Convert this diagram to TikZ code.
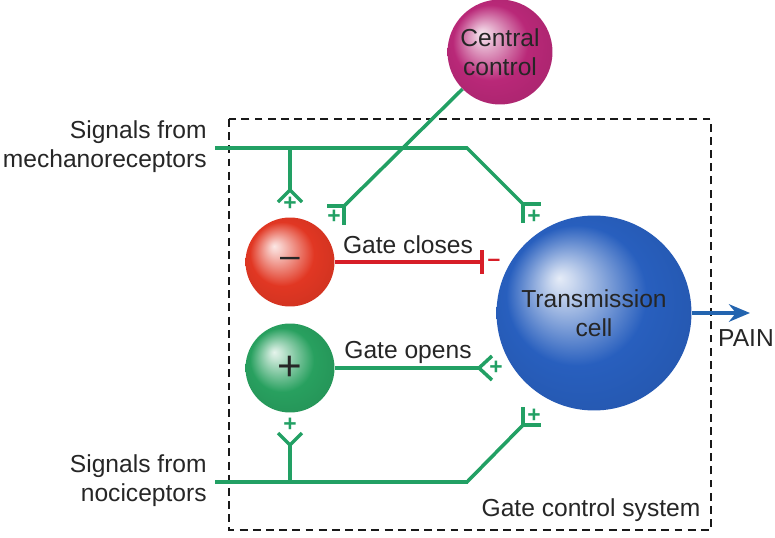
\documentclass[tikz,border=0pt]{standalone}
\usepackage{fontspec}
\setmainfont{Liberation Sans}
\usepackage{tikz}
\usetikzlibrary{positioning}
\usetikzlibrary{arrows.meta}

\definecolor{syngreen}{RGB}{34,160,100}
\definecolor{synred}{RGB}{215,30,40}
\definecolor{painblue}{RGB}{35,100,175}
\definecolor{ballred}{RGB}{225,55,35}
\definecolor{ballgreen}{RGB}{40,160,95}
\definecolor{ballblue}{RGB}{40,95,190}
\definecolor{ballpink}{RGB}{185,40,120}
\colorlet{sphcol}{gray}
\pgfdeclareradialshading[sphcol]{sphere}{\pgfqpoint{-9bp}{9bp}}{%
color(0bp)=(sphcol!12!white); color(3bp)=(sphcol!25!white);
color(18bp)=(sphcol); color(36bp)=(sphcol!88!black)}

\begin{document}
\begin{tikzpicture}
[
x=0.02cm, y=-0.02cm,
ball-a/.style={circle, inner sep=0pt, /utils/exec={\colorlet{sphcol}{#1}}, shading=sphere},
text-a/.style={font=\fontsize{14}{16.5}\selectfont, text=black!85},
sign-a/.style={font=\fontsize{24}{24}\selectfont, text=black!85},
plus-a/.style={font=\fontsize{13}{13}\selectfont\bfseries, text=syngreen, inner sep=0pt},
line-g/.style={syngreen, line width=2pt},
line-r/.style={synred, line width=2pt},
frame-a/.style={black!90, line width=1.2pt, dash pattern=on 4.5pt off 3pt},
]
\useasboundingbox (0,0) rectangle (775,538);

% gate control system
\draw [frame-a] (229,119) rectangle (711,530);
\node (gcs) [text-a] at (591,510) {Gate control system};

% cells
\node (cc)  [ball-a=ballpink,  minimum size=2.1cm,  text-a, align=center] at (500,52)  {Central\\control};
\node (inh) [ball-a=ballred,   minimum size=1.78cm, sign-a, font=\fontsize{20}{20}\selectfont] at (290,262) {–};
\node (exc) [ball-a=ballgreen, minimum size=1.78cm, sign-a] at (290,368) {+};
\node (tc)  [ball-a=ballblue,  minimum size=3.9cm,  text-a, align=center] at (594,313) {Transmission\\cell};

% inputs
\node (sm) [text-a, align=right, anchor=east, inner sep=0pt] at (207,147) {Signals from\\mechanoreceptors};
\node (sn) [text-a, align=right, anchor=east, inner sep=0pt] at (207,481) {Signals from\\nociceptors};

\coordinate (m0) at (215,148);
\coordinate (m1) at (290,148);
\coordinate (m2) at (467,148);
\coordinate (s1) at (523,204);
\coordinate (f1) at (290,190);
\coordinate (s2) at (344,206);
\coordinate (n0) at (215,482);
\coordinate (n1) at (290,482);
\coordinate (n2) at (467,482);
\coordinate (s3) at (523,425);
\coordinate (f2) at (290,445);
\coordinate (f3) at (479,368);
\coordinate (t1) at (482,262);
\coordinate (pain) at (750,313);

% fibres
\draw [line-g] (m0) -- (m2) -- (s1);
\draw [line-g] (m1) -- (f1);
\draw [line-g] (cc) -- (s2);
\draw [line-g] (n0) -- (n2) -- (s3);
\draw [line-g] (n1) -- (f2);
\draw [line-r] (inh) -- (t1);
\draw [line-g] (exc) -- (f3);
\draw [painblue, line width=2.4pt, -{Stealth[length=12pt, width=10pt, inset=4pt]}] (tc) -- (pain);

% synapses
\draw [line-g] (s1) ++(0,19) -- (s1) -- ++(18,0);
\draw [line-g] (s2) ++(-17,0) -- (s2) -- ++(0,19);
\draw [line-g] (s3) ++(0,-18) -- (s3) -- ++(18,0);
\draw [line-g] (f1) ++(-12,12) -- (f1) -- ++(12,12);
\draw [line-g] (f2) ++(-12,-12) -- (f2) -- ++(12,-12);
\draw [line-g] (f3) ++(13,-12) -- (f3) -- ++(13,12);
\draw [line-r] (t1) ++(0,-12) -- (t1) -- ++(0,12);

\node (p1) [plus-a] at (534,217) {+};
\node (p2) [plus-a] at (334,217) {+};
\node (p3) [plus-a] at (534,416) {+};
\node (p4) [plus-a] at (290,204) {+};
\node (p5) [plus-a] at (290,425) {+};
\node (p6) [plus-a] at (496,368) {+};
\node (q1) [plus-a, text=synred] at (494,263) {–};

% labels
\node (lc) [text-a] at (408,245) {Gate closes};
\node (lo) [text-a] at (408,352) {Gate opens};
\node (lp) [text-a] at (746,338) {PAIN};
\end{tikzpicture}
\end{document}
